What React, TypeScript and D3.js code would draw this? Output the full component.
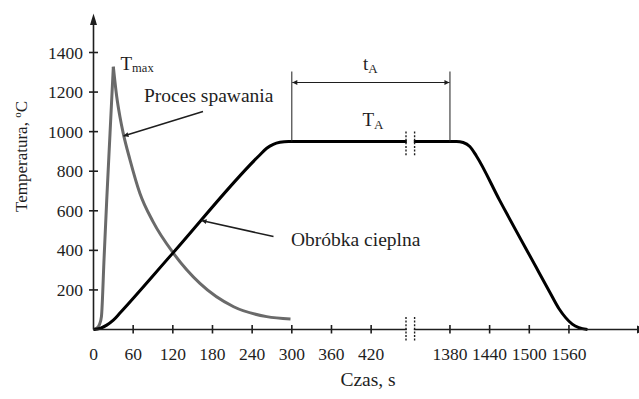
import React from "react";
import * as d3 from "d3";

// Welding thermal cycle (grey) – time [s] and temperature [°C]
const weldRiseTime = [0, 5, 9, 12, 16, 20, 25, 30];
const weldRiseTemp = [0, 6, 25, 65, 360, 654, 992, 1328];
const weldDecayTime = [30, 35, 40, 45, 55, 70, 90, 121, 161, 212, 262, 298];
const weldDecayTemp = [1328, 1180, 1075, 991, 860, 690, 545, 385, 233, 115, 65, 53];

// Post-weld heat treatment cycle (black)
const heatTime = [0, 10, 20, 30, 40, 120, 250, 262, 272, 282, 295, 1390, 1400, 1410, 1420, 1455, 1510, 1530, 1545, 1555, 1565, 1575, 1588];
const heatTemp = [0, 6, 22, 47, 83, 386, 877, 916, 936, 946, 950, 950, 945, 925, 877, 654, 317, 195, 105, 60, 27, 9, 0];

const xTicksLeft = [0, 60, 120, 180, 240, 300, 360, 420];
const xTicksRight = [1380, 1440, 1500, 1560];
const yTicks = [200, 400, 600, 800, 1000, 1200, 1400];

const soakTemp = 950;
const soakStart = 300;
const soakEnd = 1380;

const FONT = '"Liberation Serif", "Times New Roman", serif';
const INK = "#1e1e1e";

export default function App() {
  const W = 639;
  const H = 399;

  // broken time axis: 0..475 s, gap, 1325..1800 s
  const x = d3.scaleLinear().domain([0, 475, 1325, 1800]).range([93.5, 407.5, 413.6, 727.6]);
  const y = d3.scaleLinear().domain([0, 1400]).range([329.5, 52.5]);

  const line = d3
    .line<[number, number]>()
    .x((d) => x(d[0]))
    .y((d) => y(d[1]))
    .curve(d3.curveMonotoneX);

  const zip = (a: number[], b: number[]) => a.map((v, i) => [v, b[i]] as [number, number]);

  const weldRisePath = line(zip(weldRiseTime, weldRiseTemp)) || "";
  const weldDecayPath = line(zip(weldDecayTime, weldDecayTemp)) || "";
  const heatPath = line(zip(heatTime, heatTemp)) || "";

  const x0 = x(0);
  const y0 = y(0);
  const breakL = x(475) - 1.5;
  const breakR = x(1325) + 1;
  const xs = x(soakStart);
  const xe = x(soakEnd);
  const ySoak = y(soakTemp);
  const tickLabels = [...xTicksLeft, ...xTicksRight];

  const breakMark = (yc: number, half: number) => (
    <g>
      <rect x={breakL + 0.8} y={yc - half} width={breakR - breakL - 1.6} height={half * 2} fill="#fff" />
      <line x1={breakL} x2={breakL} y1={yc - half} y2={yc + half} stroke={INK} strokeWidth={1.4} strokeDasharray="2,1.6" />
      <line x1={breakR} x2={breakR} y1={yc - half} y2={yc + half} stroke={INK} strokeWidth={1.4} strokeDasharray="2,1.6" />
    </g>
  );

  return (
    <svg
      width={W}
      height={H}
      viewBox={`0 0 ${W} ${H}`}
      style={{ position: "absolute", left: 0, top: 0, background: "#fff" }}
      fontFamily={FONT}
    >
      <defs>
        <marker id="arrowSmall" viewBox="0 0 10 10" refX="10" refY="5" markerWidth="7" markerHeight="5" orient="auto-start-reverse" markerUnits="userSpaceOnUse">
          <path d="M0,0 L10,5 L0,10 z" fill={INK} />
        </marker>
      </defs>

      {/* curves */}
      <path d={weldRisePath} fill="none" stroke="#6a6a6a" strokeWidth={3} strokeLinejoin="round" />
      <path d={weldDecayPath} fill="none" stroke="#6a6a6a" strokeWidth={3} strokeLinejoin="round" />
      <path d={heatPath} fill="none" stroke="#000" strokeWidth={3} strokeLinejoin="round" />

      {/* x axis with break */}
      <line x1={x0} x2={W} y1={y0} y2={y0} stroke={INK} strokeWidth={1.6} />
      <path d={`M${W - 2},${y0 - 4} L${W + 8},${y0} L${W - 2},${y0 + 4} z`} fill={INK} />
      {breakMark(y0, 12.5)}
      {breakMark(ySoak + 2.5, 12.5)}

      {tickLabels.map((t) => (
        <g key={t}>
          {t !== 0 && <line x1={x(t)} x2={x(t)} y1={y0 - 4.5} y2={y0 + 4} stroke={INK} strokeWidth={1.6} />}
          <text x={x(t)} y={359.5} textAnchor="middle" fontSize={17.5} fill={INK}>
            {t}
          </text>
        </g>
      ))}

      {/* y axis */}
      <line x1={x0} x2={x0} y1={y0} y2={20} stroke={INK} strokeWidth={1.6} />
      <path d={`M${x0 - 3.5},${25} L${x0},${13.5} L${x0 + 3.5},${25} z`} fill={INK} />
      {yTicks.map((v) => (
        <g key={v}>
          <line x1={x0 - 4.5} x2={x0 + 4.5} y1={y(v)} y2={y(v)} stroke={INK} strokeWidth={1.6} />
          <text x={83} y={y(v) + 6} textAnchor="end" fontSize={17.5} fill={INK}>
            {v}
          </text>
        </g>
      ))}

      {/* axis titles */}
      <text transform="translate(27,156.5) rotate(-90)" textAnchor="middle" fontSize={17} fill={INK}>
        Temperatura, <tspan dy={-6} fontSize={11}>o</tspan>
        <tspan dy={6}>C</tspan>
      </text>
      <text x={368} y={386} textAnchor="middle" fontSize={19.5} fill={INK}>
        Czas, s
      </text>

      {/* T_max */}
      <text x={120.5} y={70} fontSize={19} fill={INK}>
        T<tspan fontSize={12.5} dy={2}>max</tspan>
      </text>

      {/* Proces spawania */}
      <text x={144} y={101.5} fontSize={19.5} fill={INK}>
        Proces spawania
      </text>
      <line x1={203} y1={111.5} x2={123.5} y2={136} stroke={INK} strokeWidth={1.5} markerEnd="url(#arrowSmall)" />

      {/* Obróbka cieplna */}
      <text x={291} y={246} fontSize={19.5} fill={INK}>
        Obróbka cieplna
      </text>
      <line x1={273.5} y1={236.5} x2={201.5} y2={220.5} stroke={INK} strokeWidth={1.5} markerEnd="url(#arrowSmall)" />

      {/* soak time dimension */}
      <line x1={xs} x2={xs} y1={71.5} y2={ySoak} stroke={INK} strokeWidth={1} />
      <line x1={xe} x2={xe} y1={71.5} y2={ySoak} stroke={INK} strokeWidth={1} />
      <line x1={xs + 0.5} x2={xe - 0.5} y1={82.5} y2={82.5} stroke={INK} strokeWidth={1} markerStart="url(#arrowSmall)" markerEnd="url(#arrowSmall)" />
      <text x={(xs + xe) / 2 - 8} y={70} fontSize={19} fill={INK}>
        t<tspan fontSize={13} dy={3}>A</tspan>
      </text>
      <text x={(xs + xe) / 2 - 8.5} y={126} fontSize={19} fill={INK}>
        T<tspan fontSize={13} dy={3}>A</tspan>
      </text>
    </svg>
  );
}
